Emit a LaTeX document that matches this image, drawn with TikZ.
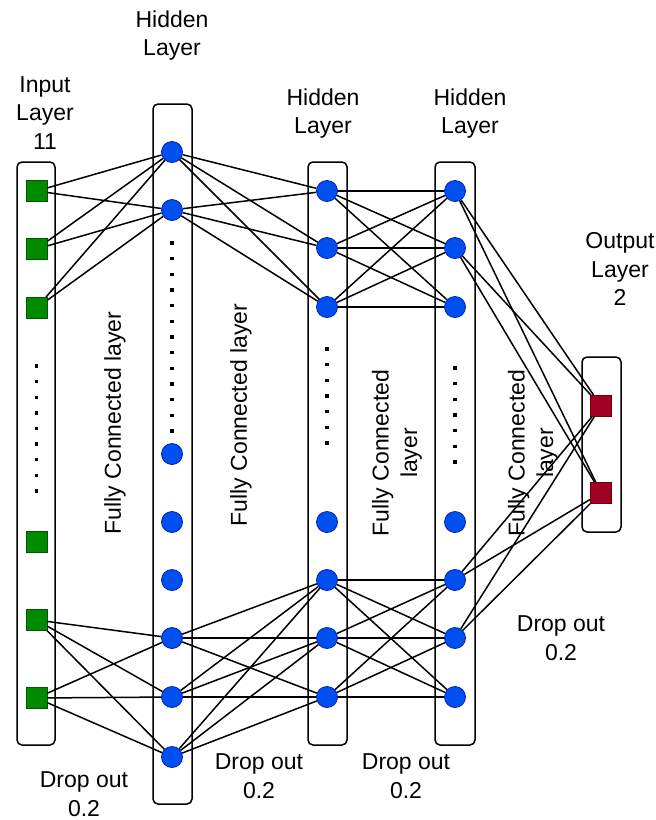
\documentclass[tikz,border=0pt]{standalone}
\usepackage{fontspec}
\setmainfont{Liberation Sans}
\tikzset{>=latex}
\definecolor{ingreen}{HTML}{008A00}
\definecolor{ingreendark}{HTML}{005700}
\definecolor{hidblue}{HTML}{0050EF}
\definecolor{hidbluedark}{HTML}{001DBC}
\definecolor{outred}{HTML}{A20025}
\definecolor{outreddark}{HTML}{6F0000}
\tikzset{
  layerbox/.style={draw,line width=1.5pt,rounded corners=5pt,fill=white},
  inneuron/.style={rectangle,draw=ingreendark,fill=ingreen,line width=0.8pt,minimum size=21pt,inner sep=0pt},
  hidneuron/.style={circle,draw=hidbluedark,fill=hidblue,line width=0.8pt,minimum size=21pt,inner sep=0pt},
  outneuron/.style={rectangle,draw=outreddark,fill=outred,line width=0.8pt,minimum size=21pt,inner sep=0pt},
  link/.style={line width=1.5pt},
  caption/.style={align=center}
}

\begin{document}
\begin{tikzpicture}[x=1pt,y=-1pt,font=\fontsize{23}{28.5}\selectfont]
  \useasboundingbox (0,0) rectangle (656,820);
  % layer boxes
  \draw[layerbox] (17,162) rectangle (55,745);
  \draw[layerbox] (153,104) rectangle (192,804);
  \draw[layerbox] (308,162) rectangle (347,745);
  \draw[layerbox] (435,162) rectangle (475,745);
  \draw[layerbox] (582,357) rectangle (621,532);
  % neurons
  \foreach \y [count=\i] in {191,249,308,542,620,698}
    \node[inneuron] (in\i) at (36.5,\y) {};
  \foreach \y [count=\i] in {152,210,454,522,580,638,697,757}
    \node[hidneuron] (ha\i) at (172,\y) {};
  \foreach \y [count=\i] in {191,248,307,522,580,638,697}
    \node[hidneuron] (hb\i) at (327,\y) {};
  \foreach \y [count=\i] in {191,248,307,522,580,638,697}
    \node[hidneuron] (hc\i) at (455,\y) {};
  \node[outneuron] (out1) at (601,406) {};
  \node[outneuron] (out2) at (601,493) {};
  % skipped neurons
  \foreach \k in {0,...,8}
    \fill (36.5,366+\k*15.6) +(-1.7,-1.7) rectangle +(1.7,1.7);
  \foreach \k in {0,...,12}
    \fill (172,243+\k*15.67) +(-1.7,-1.7) rectangle +(1.7,1.7);
  \foreach \k in {0,...,6}
    \fill (327,349+\k*15.67) +(-1.7,-1.7) rectangle +(1.7,1.7);
  \foreach \k in {0,...,6}
    \fill (455,368+\k*15.67) +(-1.7,-1.7) rectangle +(1.7,1.7);
  % connections
  \foreach \i in {1,2,3}
    \foreach \j in {1,2}
      \draw[link] (in\i) -- (ha\j);
  \foreach \i in {5,6}
    \foreach \j in {6,7,8}
      \draw[link] (in\i) -- (ha\j);
  \foreach \i in {1,2}
    \foreach \j in {1,2,3}
      \draw[link] (ha\i) -- (hb\j);
  \foreach \i in {6,7,8}
    \foreach \j in {5,6,7}
      \draw[link] (ha\i) -- (hb\j);
  \foreach \i in {1,2,3}
    \foreach \j in {1,2,3}
      \draw[link] (hb\i) -- (hc\j);
  \foreach \i in {5,6,7}
    \foreach \j in {5,6,7}
      \draw[link] (hb\i) -- (hc\j);
  \foreach \i in {1,2,5,6}
    \foreach \j in {1,2}
      \draw[link] (hc\i) -- (out\j);
  % layer titles
  \node[caption] (intitle) at (45,113) {Input\\Layer\\11};
  \node[caption] (hatitle) at (172,35.5) {Hidden\\Layer};
  \node[caption] (hbtitle) at (323,113.5) {Hidden\\Layer};
  \node[caption] (hctitle) at (470,113.5) {Hidden\\Layer};
  \node[caption] (outtitle) at (620,269) {Output\\Layer\\2};
  % fully connected
  \node[caption,rotate=90] (fc1) at (115,423) {Fully Connected layer};
  \node[caption,rotate=90] (fc2) at (241,415) {Fully Connected layer};
  \node[caption,rotate=90] (fc3) at (397,453) {Fully Connected\\layer};
  \node[caption,rotate=90] (fc4) at (533,453) {Fully Connected\\layer};
  % dropout
  \node[caption] (drop1) at (84,794) {Drop out\\0.2};
  \node[caption] (drop2) at (259,776) {Drop out\\0.2};
  \node[caption] (drop3) at (406,776) {Drop out\\0.2};
  \node[caption] (drop4) at (561,638) {Drop out\\0.2};
\end{tikzpicture}
\end{document}
